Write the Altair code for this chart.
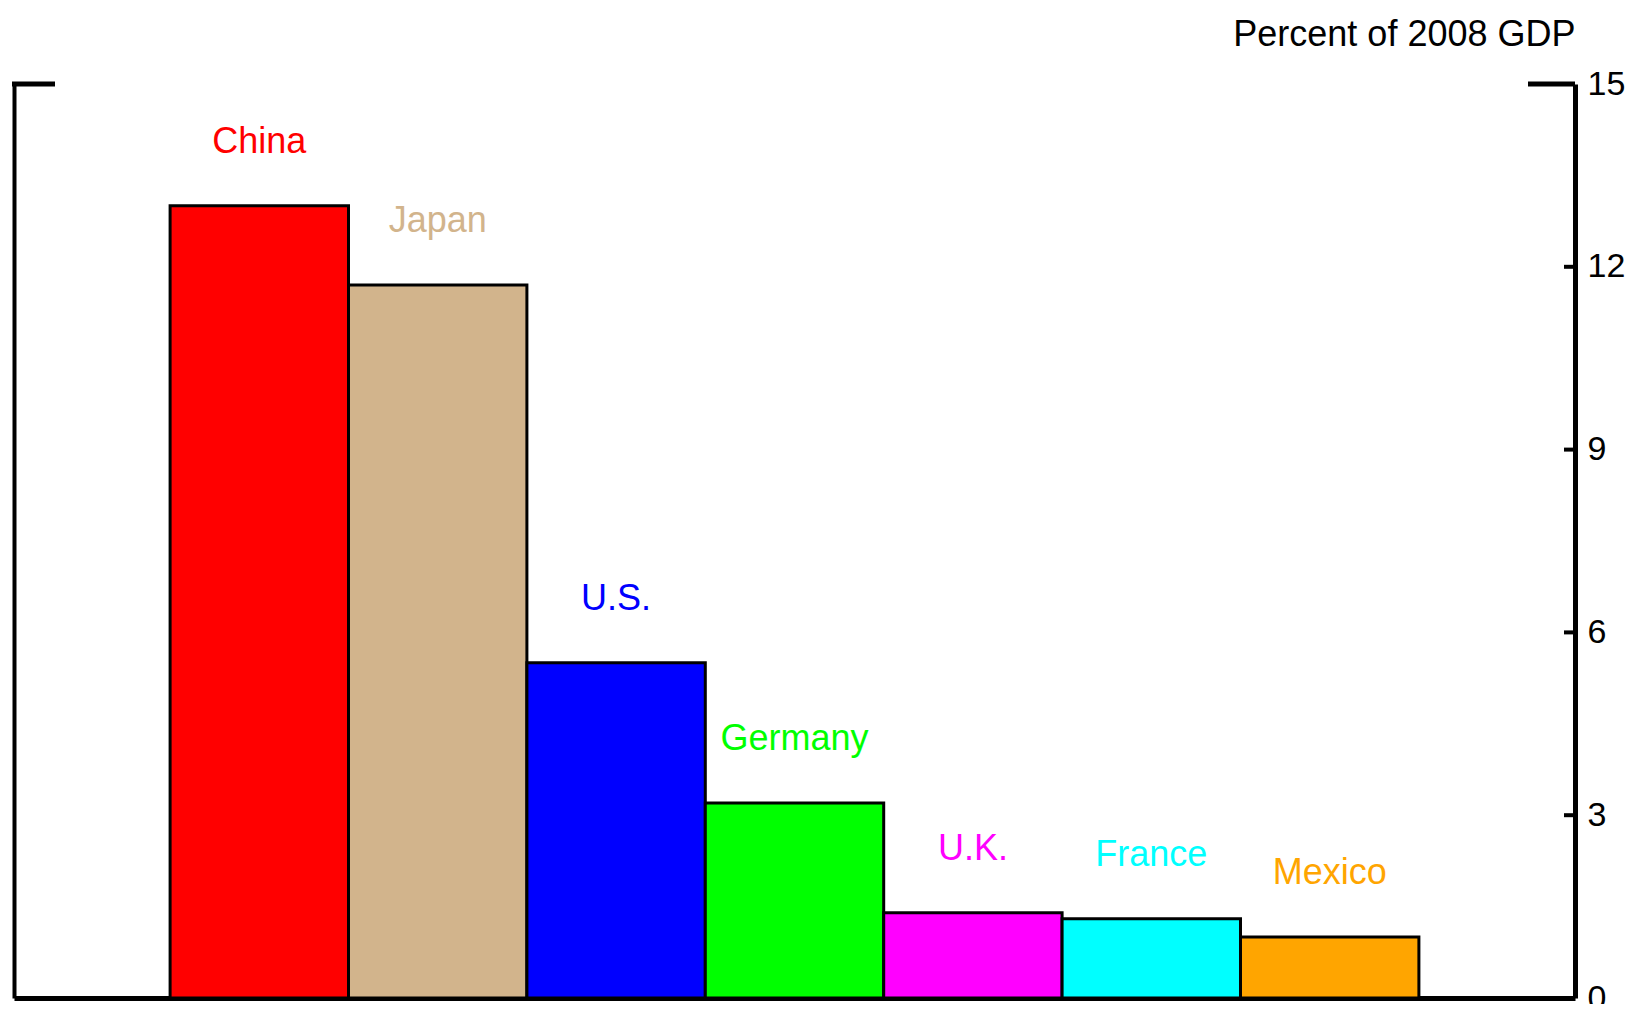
import altair as alt
import pandas as pd

countries = ["China", "Japan", "U.S.", "Germany", "U.K.", "France", "Mexico"]
values = [13.0, 11.7, 5.5, 3.2, 1.4, 1.3, 1.0]
colors = ["#FF0000", "#D2B48C", "#0000FF", "#00FF00", "#FF00FF", "#00FFFF", "#FFA500"]
tick_values = [0, 3, 6, 9, 12, 15]
inner_ticks = [3, 6, 9, 12]
axis_title = "Percent of 2008 GDP"

FONT = "Liberation Sans"
W, H = 1561, 914

df = pd.DataFrame({"country": countries, "value": values, "color": colors})
ticks_df = pd.DataFrame({"t": inner_ticks})
top_df = pd.DataFrame({"t": [15]})

yscale = alt.Scale(domain=[0, 15], nice=False, zero=True)

bars = alt.Chart(df).mark_bar(stroke="black", strokeWidth=3).encode(
    x=alt.X("country:N", sort=countries,
            scale=alt.Scale(paddingInner=0, paddingOuter=0.875),
            axis=alt.Axis(labels=False, ticks=False, title=None, domainWidth=5,
                          domainColor="black", grid=False)),
    y=alt.Y("value:Q", scale=yscale,
            axis=alt.Axis(orient="left", labels=False, ticks=False, grid=False,
                          title=None, domainWidth=4, domainColor="black")),
    fill=alt.Fill("color:N", scale=None),
)

labels = alt.Chart(df).mark_text(fontSize=36, font=FONT, baseline="middle",
                                 align="center", dy=-64).encode(
    x=alt.X("country:N", sort=countries),
    y=alt.Y("value:Q", scale=yscale, axis=None),
    text="country:N",
    color=alt.Color("color:N", scale=None),
)

tick_rules = alt.Chart(ticks_df).mark_rule(color="black", strokeWidth=4).encode(
    y=alt.Y("t:Q", scale=yscale,
            axis=alt.Axis(orient="right", values=tick_values, ticks=False, grid=False,
                          labelFontSize=34, labelFont=FONT, labelColor="black",
                          labelPadding=12, labelBaseline="middle",
                          labelOverlap=False, labelBound=False, labelFlush=False,
                          domainWidth=5, domainColor="black",
                          title=axis_title, titleAngle=0, titleX=0, titleY=-50,
                          titleAlign="right", titleBaseline="middle",
                          titleFontSize=36, titleFont=FONT, titleFontWeight="normal",
                          titleColor="black")),
    x=alt.value(W - 11),
    x2=alt.value(W),
)

top_left = alt.Chart(top_df).mark_rule(color="black", strokeWidth=5).encode(
    y=alt.Y("t:Q", scale=yscale, axis=None),
    x=alt.value(-2),
    x2=alt.value(41),
)
top_right = alt.Chart(top_df).mark_rule(color="black", strokeWidth=5).encode(
    y=alt.Y("t:Q", scale=yscale, axis=None),
    x=alt.value(W - 47),
    x2=alt.value(W),
)

chart = alt.layer(bars, labels, tick_rules, top_left, top_right).resolve_scale(
    y="shared"
).resolve_axis(y="independent").properties(
    width=W, height=H,
    autosize=alt.AutoSizeParams(type="none"),
    padding={"left": 6, "top": 76, "right": 55, "bottom": 6},
).configure(background="white").configure_view(stroke=None, strokeWidth=0).configure_axis(grid=False)

chart.save("out.html", embed_options={"renderer": "svg", "actions": False})
